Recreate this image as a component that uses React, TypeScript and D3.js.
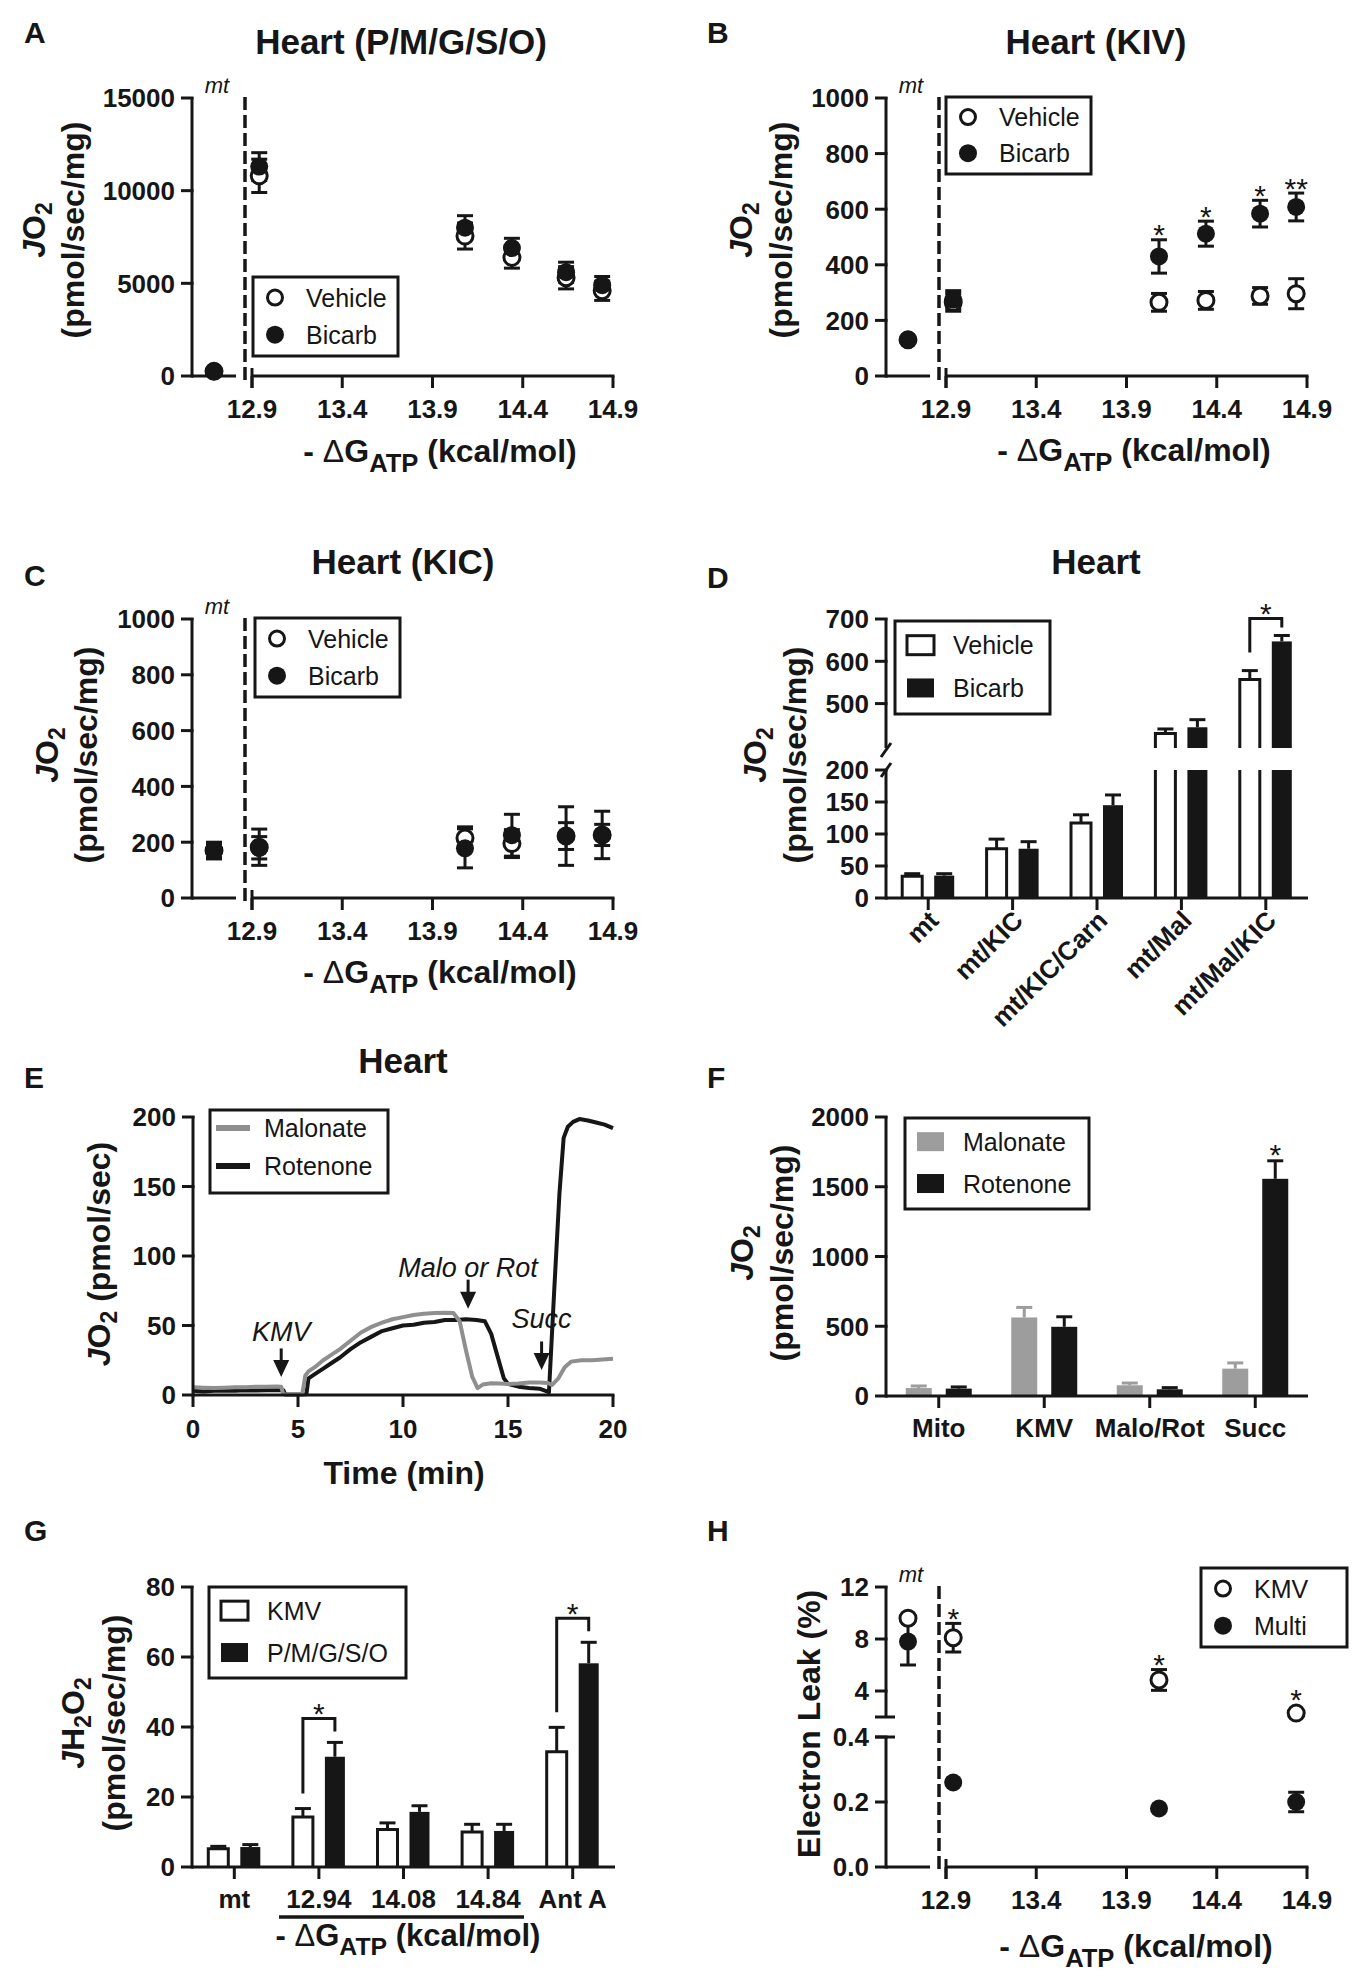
import React from "react";
import * as d3 from "d3";

const FONT = "'Liberation Sans', Arial, Helvetica, sans-serif";
const INK = "#161616";
const GRAY = "#9d9d9d";
const LINEGRAY = "#8f8f8f";
const SW = 3;
const TICK_FS = 26;
const TITLE_FS = 35;
const AXT_FS = 32;
const LEG_FS = 25;
const LET_FS = 30;
const STAR_FS = 30;

// ================= DATA =================
const dgTicks = [12.9, 13.4, 13.9, 14.4, 14.9];
const dgTickLabels = ["12.9", "13.4", "13.9", "14.4", "14.9"];
const dgX = ["mt", 12.94, 14.08, 14.34, 14.64, 14.84];

// Panel A  Heart (P/M/G/S/O)
const aYTicks = [0, 5000, 10000, 15000];
const aVehicle = [250, 10800, 7550, 6400, 5300, 4600];
const aVehicleErr = [80, 900, 700, 580, 600, 520];
const aBicarb = [250, 11300, 8000, 6900, 5600, 4900];
const aBicarbErr = [80, 750, 650, 530, 540, 470];

// Panel B  Heart (KIV)
const bYTicks = [0, 200, 400, 600, 800, 1000];
const bVehicle = [130, 265, 265, 272, 288, 296];
const bVehicleErr = [8, 32, 32, 32, 30, 54];
const bBicarb = [130, 275, 430, 512, 584, 608];
const bBicarbErr = [8, 32, 60, 45, 48, 50];
const bStars = ["", "", "*", "*", "*", "**"];

// Panel C  Heart (KIC)
const cYTicks = [0, 200, 400, 600, 800, 1000];
const cVehicle = [170, 182, 215, 195, 222, 226];
const cVehicleErr = [30, 65, 40, 50, 48, 38];
const cBicarb = [170, 180, 178, 225, 222, 226];
const cBicarbErr = [25, 40, 70, 75, 105, 85];

// Panel D  Heart bars (broken axis)
const dCats = ["mt", "mt/KIC", "mt/KIC/Carn", "mt/Mal", "mt/Mal/KIC"];
const dLowTicks = [0, 50, 100, 150, 200];
const dHighTicks = [500, 600, 700];
const dVehicle = [34, 77, 117, 429, 557];
const dVehicleErr = [4, 15, 13, 11, 21];
const dBicarb = [35, 77, 145, 444, 647];
const dBicarbErr = [3, 11, 16, 18, 14];

// Panel E  traces
const eXTicks = [0, 5, 10, 15, 20];
const eYTicks = [0, 50, 100, 150, 200];
const malTime = [0, 0.5, 1, 1.5, 2, 2.5, 3, 3.5, 4, 4.2, 4.3, 4.8, 5.2, 5.35, 5.5, 5.8, 6.2, 6.6, 7, 7.5, 8, 8.5, 9, 9.5, 10, 10.5, 11, 11.5, 12, 12.4, 12.7, 13, 13.3, 13.55, 13.8, 14.2, 14.6, 15, 15.5, 16, 16.5, 16.9, 17.1, 17.4, 17.7, 18, 18.5, 19, 19.5, 20];
const malVal = [5.5, 5.2, 5, 5.3, 5.5, 5.6, 6, 6, 6.2, 6, 0.5, 0.4, 0.5, 14, 17, 20, 25, 29, 33, 39, 45, 49, 52, 54.5, 56, 57.5, 58.5, 59, 59.2, 59, 53, 32, 13, 5, 7.5, 8.5, 8.2, 8, 8.3, 9, 9, 8.6, 7.2, 12, 20, 24, 25, 25, 25.5, 26];
const rotTime = [0, 0.5, 1, 1.5, 2, 2.5, 3, 3.5, 4, 4.3, 4.4, 5, 5.4, 5.5, 5.8, 6.2, 6.6, 7, 7.5, 8, 8.5, 9, 9.5, 10, 10.5, 11, 11.5, 12, 12.5, 13, 13.5, 13.9, 14.2, 14.5, 14.8, 15, 15.5, 16, 16.5, 16.95, 17.2, 17.45, 17.65, 17.85, 18.1, 18.4, 18.8, 19.2, 19.6, 20];
const rotVal = [3, 2.5, 3, 3.2, 3, 3.5, 3.2, 3.5, 3.6, 3.5, 0.3, 0.3, 0.5, 12, 15, 19, 23, 27, 33, 38, 42, 46, 48, 50, 50.5, 52, 52.5, 54, 54, 54.5, 54, 53, 44, 28, 12, 8, 6, 5, 4.5, 2, 75, 145, 185, 193, 196.5, 198.5, 197.5, 196, 194.5, 192];
const eArrowLabels = ["KMV", "Malo or Rot", "Succ"];
const eArrowTime = [4.2, 13.1, 16.6];
const eArrowFrom = [33.5, 83, 38.5];
const eArrowTo = [13, 62, 18];
const eLabelAt = [38.5, 85, 48];

// Panel F
const fCats = ["Mito", "KMV", "Malo/Rot", "Succ"];
const fYTicks = [0, 500, 1000, 1500, 2000];
const fMalonate = [57, 563, 77, 196];
const fMalonateErr = [15, 72, 16, 41];
const fRotenone = [53, 496, 48, 1557];
const fRotenoneErr = [12, 72, 12, 129];

// Panel G
const gCats = ["mt", "12.94", "14.08", "14.84", "Ant A"];
const gYTicks = [0, 20, 40, 60, 80];
const gKMV = [5.25, 14.3, 10.7, 10.0, 32.9];
const gKMVErr = [0.65, 2.4, 1.9, 2.2, 7.0];
const gPMGSO = [5.7, 31.5, 15.75, 10.3, 58.2];
const gPMGSOErr = [0.7, 4.1, 1.75, 1.9, 6.0];

// Panel H
const hX = ["mt", 12.94, 14.08, 14.84];
const hLowTicks = [0, 0.2, 0.4];
const hLowLabels = ["0.0", "0.2", "0.4"];
const hHighTicks = [4, 8, 12];
const hKMV = [9.6, 8.1, 4.85, 2.3];
const hKMVErr = [0, 1.1, 0.8, 0];
const hMulti = [7.8, 0.26, 0.18, 0.2];
const hMultiErr = [1.8, 0, 0, 0.03];
const hStars = ["", "*", "*", "*"];

// ================= HELPERS =================
const T = (props: any) => <text fill={INK} {...props} />;

function Letter({ x, y, t }: any) {
  return <T x={x} y={y} fontSize={LET_FS} fontWeight="bold">{t}</T>;
}
function Title({ x, y, t }: any) {
  return <T x={x} y={y} fontSize={TITLE_FS} fontWeight="bold" textAnchor="middle">{t}</T>;
}
function DGTitle({ x, y, fs = AXT_FS }: any) {
  return (
    <T x={x} y={y} fontSize={fs} fontWeight="bold" textAnchor="middle">
      - <tspan fontWeight="normal">Δ</tspan>G<tspan dy={fs * 0.3} fontSize={fs * 0.8}>ATP</tspan>
      <tspan dy={-fs * 0.3}> (kcal/mol)</tspan>
    </T>
  );
}
function JO2({ x, y, h = false }: any) {
  return (
    <T transform={`translate(${x},${y}) rotate(-90)`} textAnchor="middle" fontSize={AXT_FS} fontWeight="bold">
      <tspan fontStyle="italic">J</tspan>
      {h ? (
        <>
          H<tspan dy={7} fontSize={23}>2</tspan>
          <tspan dy={-7}>O</tspan>
          <tspan dy={7} fontSize={23}>2</tspan>
        </>
      ) : (
        <>
          O<tspan dy={7} fontSize={23}>2</tspan>
        </>
      )}
    </T>
  );
}
function RotLabel({ x, y, t, fs = AXT_FS }: any) {
  return (
    <T transform={`translate(${x},${y}) rotate(-90)`} textAnchor="middle" fontSize={fs} fontWeight="bold">
      {t}
    </T>
  );
}

function YAxis({ x, sc, ticks, labels, y1, y2 }: any) {
  return (
    <g>
      <line x1={x} x2={x} y1={y1} y2={y2} stroke={INK} strokeWidth={SW} />
      {ticks.map((t: number, i: number) => (
        <g key={i}>
          <line x1={x - 11} x2={x + 1.5} y1={sc(t)} y2={sc(t)} stroke={INK} strokeWidth={SW} />
          <T x={x - 17} y={sc(t)} dy="0.36em" textAnchor="end" fontSize={TICK_FS} fontWeight="bold">
            {labels ? labels[i] : String(t)}
          </T>
        </g>
      ))}
    </g>
  );
}

function dgScale(ox: number) {
  return d3.scaleLinear().domain([12.9, 14.9]).range([ox + 60, ox + 421]);
}

function DGAxis({ ox, y0, yTop }: any) {
  const xs = dgScale(ox);
  return (
    <g>
      <line x1={ox} x2={ox + 44} y1={y0} y2={y0} stroke={INK} strokeWidth={SW} />
      <line x1={ox + 53} x2={ox + 53} y1={yTop - 1} y2={y0 + 6} stroke={INK} strokeWidth={3.5} strokeDasharray="13 5" />
      <line x1={xs(12.9)} x2={xs(14.9) + 1.5} y1={y0} y2={y0} stroke={INK} strokeWidth={SW} />
      <line x1={xs(12.9)} x2={xs(12.9)} y1={y0 - 8} y2={y0 + 12} stroke={INK} strokeWidth={SW} />
      {dgTicks.map((t, i) => (
        <g key={i}>
          <line x1={xs(t)} x2={xs(t)} y1={y0} y2={y0 + 12} stroke={INK} strokeWidth={SW} />
          <T x={xs(t)} y={y0 + 42} textAnchor="middle" fontSize={TICK_FS} fontWeight="bold">
            {dgTickLabels[i]}
          </T>
        </g>
      ))}
      <T x={ox + 25} y={yTop - 5} textAnchor="middle" fontSize={22} fontStyle="italic">mt</T>
    </g>
  );
}

function ScatterMarks({ ox, sc, xsList, series, stars }: any) {
  const xl = dgScale(ox);
  const px = (x: any) => (x === "mt" ? ox + 22 : xl(x));
  const R = 9;
  return (
    <g>
      {series.map((s: any, si: number) =>
        s.vals.map((v: number, i: number) => {
          const e = s.errs[i];
          if (!e) return null;
          const x = px(xsList[i]);
          return (
            <g key={`e${si}-${i}`} stroke={INK} strokeWidth={SW}>
              <line x1={x} x2={x} y1={sc(v - e)} y2={sc(v + e)} />
              <line x1={x - 8} x2={x + 8} y1={sc(v - e)} y2={sc(v - e)} />
              <line x1={x - 8} x2={x + 8} y1={sc(v + e)} y2={sc(v + e)} />
            </g>
          );
        })
      )}
      {series.map((s: any, si: number) =>
        s.vals.map((v: number, i: number) => (
          <circle
            key={`c${si}-${i}`}
            cx={px(xsList[i])}
            cy={sc(v)}
            r={s.open ? R - 1 : R}
            fill={s.open ? "#fff" : INK}
            stroke={INK}
            strokeWidth={s.open ? SW : 0}
          />
        ))
      )}
      {stars &&
        stars.map((st: string, i: number) => {
          if (!st) return null;
          let top = Infinity;
          series.forEach((s: any) => {
            const v = s.vals[i];
            top = Math.min(top, sc(v + s.errs[i]), sc(v) - R);
          });
          const cy = top - 12;
          return (
            <T key={`s${i}`} x={px(xsList[i])} y={cy + 17.5} textAnchor="middle" fontSize={STAR_FS}>
              {st}
            </T>
          );
        })}
    </g>
  );
}

function CircleLegend({ x, y, w, h, labels }: any) {
  const r1 = y + h * 0.26;
  const r2 = y + h * 0.73;
  return (
    <g>
      <rect x={x} y={y} width={w} height={h} fill="#fff" stroke={INK} strokeWidth={SW} />
      <circle cx={x + 22} cy={r1} r={7.5} fill="#fff" stroke={INK} strokeWidth={SW} />
      <circle cx={x + 22} cy={r2} r={9} fill={INK} />
      <T x={x + 53} y={r1} dy="0.36em" fontSize={LEG_FS}>{labels[0]}</T>
      <T x={x + 53} y={r2} dy="0.36em" fontSize={LEG_FS}>{labels[1]}</T>
    </g>
  );
}

function SquareLegend({ x, y, w, h, labels, fills }: any) {
  const r1 = y + h * 0.26;
  const r2 = y + h * 0.72;
  return (
    <g>
      <rect x={x} y={y} width={w} height={h} fill="#fff" stroke={INK} strokeWidth={SW} />
      {[r1, r2].map((ry, i) => (
        <g key={i}>
          <rect
            x={x + 12}
            y={ry - 9.5}
            width={27}
            height={19}
            fill={fills[i]}
            stroke={fills[i] === "#fff" ? INK : "none"}
            strokeWidth={SW}
          />
          <T x={x + 58} y={ry} dy="0.36em" fontSize={LEG_FS}>{labels[i]}</T>
        </g>
      ))}
    </g>
  );
}

function CatAxis({ x1, x2, y0, centers }: any) {
  return (
    <g>
      <line x1={x1} x2={x2} y1={y0} y2={y0} stroke={INK} strokeWidth={SW} />
      {centers.map((c: number, i: number) => (
        <line key={i} x1={c} x2={c} y1={y0} y2={y0 + 12} stroke={INK} strokeWidth={SW} />
      ))}
    </g>
  );
}

function ErrUp({ x, yTop, yErr, color = INK }: any) {
  return (
    <g stroke={color} strokeWidth={SW}>
      <line x1={x} x2={x} y1={yTop} y2={yErr} />
      <line x1={x - 8} x2={x + 8} y1={yErr} y2={yErr} />
    </g>
  );
}

function Bar({ x, w, y0, yv, open, color = INK }: any) {
  if (open) {
    return <path d={`M${x},${y0}V${yv}H${x + w}V${y0}`} fill="#fff" stroke={INK} strokeWidth={SW} />;
  }
  return <rect x={x} y={yv} width={w} height={y0 - yv} fill={color} />;
}

function Bracket({ xl, xr, yl, yr, yt }: any) {
  return (
    <g>
      <path d={`M${xl},${yl}V${yt}H${xr}V${yr}`} fill="none" stroke={INK} strokeWidth={SW} />
      <T x={(xl + xr) / 2} y={yt - 10 + 16} textAnchor="middle" fontSize={STAR_FS}>*</T>
    </g>
  );
}

// ================= PANELS =================
function PanelA() {
  const ox = 192;
  const sc = d3.scaleLinear().domain([0, 15000]).range([376, 98]);
  return (
    <g>
      <Letter x={24} y={43} t="A" />
      <Title x={401} y={54} t="Heart (P/M/G/S/O)" />
      <YAxis x={ox} sc={sc} ticks={aYTicks} y1={97} y2={377.5} />
      <DGAxis ox={ox} y0={376} yTop={98} />
      <ScatterMarks
        ox={ox}
        sc={sc}
        xsList={dgX}
        series={[
          { vals: aVehicle, errs: aVehicleErr, open: true },
          { vals: aBicarb, errs: aBicarbErr, open: false },
        ]}
      />
      <CircleLegend x={253} y={277} w={145} h={79} labels={["Vehicle", "Bicarb"]} />
      <JO2 x={45} y={230} />
      <RotLabel x={84} y={230} t="(pmol/sec/mg)" />
      <DGTitle x={440} y={462} />
    </g>
  );
}

function PanelB() {
  const ox = 886;
  const sc = d3.scaleLinear().domain([0, 1000]).range([376, 98]);
  return (
    <g>
      <Letter x={707} y={43} t="B" />
      <Title x={1096} y={54} t="Heart (KIV)" />
      <YAxis x={ox} sc={sc} ticks={bYTicks} y1={97} y2={377.5} />
      <DGAxis ox={ox} y0={376} yTop={98} />
      <ScatterMarks
        ox={ox}
        sc={sc}
        xsList={dgX}
        stars={bStars}
        series={[
          { vals: bVehicle, errs: bVehicleErr, open: true },
          { vals: bBicarb, errs: bBicarbErr, open: false },
        ]}
      />
      <CircleLegend x={946} y={97} w={145} h={77} labels={["Vehicle", "Bicarb"]} />
      <JO2 x={752} y={230} />
      <RotLabel x={792} y={230} t="(pmol/sec/mg)" />
      <DGTitle x={1134} y={461} />
    </g>
  );
}

function PanelC() {
  const ox = 192;
  const sc = d3.scaleLinear().domain([0, 1000]).range([898, 619]);
  return (
    <g>
      <Letter x={24} y={586} t="C" />
      <Title x={403} y={574} t="Heart (KIC)" />
      <YAxis x={ox} sc={sc} ticks={cYTicks} y1={618} y2={899.5} />
      <DGAxis ox={ox} y0={898} yTop={619} />
      <ScatterMarks
        ox={ox}
        sc={sc}
        xsList={dgX}
        series={[
          { vals: cVehicle, errs: cVehicleErr, open: true },
          { vals: cBicarb, errs: cBicarbErr, open: false },
        ]}
      />
      <CircleLegend x={255} y={618} w={145} h={79} labels={["Vehicle", "Bicarb"]} />
      <JO2 x={58} y={755} />
      <RotLabel x={97} y={755} t="(pmol/sec/mg)" />
      <DGTitle x={440} y={983} />
    </g>
  );
}

function PanelD() {
  const ax = 886;
  const y0 = 898;
  const low = d3.scaleLinear().domain([0, 200]).range([898, 770]);
  const high = d3.scaleLinear().domain([395, 700]).range([748, 619]);
  const yv = (v: number) => (v <= 200 ? low(v) : high(v));
  const band = d3.scaleBand().domain(dCats).range([886, 1308]);
  const cx = (c: string) => (band(c) as number) + band.bandwidth() / 2;
  const W = 20;
  const off = 16;
  const series = [
    { vals: dVehicle, errs: dVehicleErr, open: true, d: -off },
    { vals: dBicarb, errs: dBicarbErr, open: false, d: off },
  ];
  const last = dCats.length - 1;
  const vTop = yv(dVehicle[last] + dVehicleErr[last]);
  const bTop = yv(dBicarb[last] + dBicarbErr[last]);
  return (
    <g>
      <Letter x={707} y={588} t="D" />
      <Title x={1096} y={574} t="Heart" />
      {series.map((s, si) =>
        dCats.map((c, i) => {
          const v = s.vals[i];
          const x = cx(c) + s.d - W / 2;
          const xc = cx(c) + s.d;
          if (v <= 200) {
            return (
              <g key={`${si}-${i}`}>
                <Bar x={x} w={W} y0={y0} yv={low(v)} open={s.open} />
                <ErrUp x={xc} yTop={low(v)} yErr={low(v + s.errs[i])} />
              </g>
            );
          }
          return (
            <g key={`${si}-${i}`}>
              {s.open ? (
                <path d={`M${x},${y0}V${low(200)}M${x + W},${low(200)}V${y0}`} stroke={INK} strokeWidth={SW} fill="none" />
              ) : (
                <rect x={x} y={low(200)} width={W} height={y0 - low(200)} fill={INK} />
              )}
              {s.open ? (
                <path d={`M${x},${high(395)}V${high(v)}H${x + W}V${high(395)}`} stroke={INK} strokeWidth={SW} fill="#fff" />
              ) : (
                <rect x={x} y={high(v)} width={W} height={high(395) - high(v)} fill={INK} />
              )}
              <ErrUp x={xc} yTop={high(v)} yErr={high(v + s.errs[i])} />
            </g>
          );
        })
      )}
      <YAxis x={ax} sc={low} ticks={dLowTicks} y1={low(200) - 1} y2={899.5} />
      <YAxis x={ax} sc={high} ticks={dHighTicks} y1={618} y2={high(395)} />
      <line x1={ax - 5} x2={ax + 5} y1={high(395) + 9} y2={high(395) - 5} stroke={INK} strokeWidth={SW} />
      <line x1={ax - 5} x2={ax + 5} y1={low(200) + 7} y2={low(200) - 7} stroke={INK} strokeWidth={SW} />
      <CatAxis x1={ax} x2={1308} y0={y0} centers={dCats.map(cx)} />
      {dCats.map((c, i) => (
        <T
          key={i}
          transform={`translate(${cx(c) + 12},${y0 + 24}) rotate(-45)`}
          textAnchor="end"
          fontSize={TICK_FS}
          fontWeight="bold"
        >
          {c}
        </T>
      ))}
      <Bracket
        xl={cx(dCats[last]) - off}
        xr={cx(dCats[last]) + off}
        yl={vTop - 18}
        yr={bTop - 8}
        yt={Math.min(vTop, bTop) - 17}
      />
      <SquareLegend x={895} y={621} w={155} h={93} labels={["Vehicle", "Bicarb"]} fills={["#fff", INK]} />
      <JO2 x={766} y={755} />
      <RotLabel x={806} y={755} t="(pmol/sec/mg)" />
    </g>
  );
}

function PanelE() {
  const ax = 193;
  const x = d3.scaleLinear().domain([0, 20]).range([193, 613]);
  const y = d3.scaleLinear().domain([0, 200]).range([1395, 1117]);
  const line = d3
    .line<[number, number]>()
    .x((d) => x(d[0]))
    .y((d) => y(d[1]));
  const mal = malTime.map((t, i) => [t, malVal[i]] as [number, number]);
  const rot = rotTime.map((t, i) => [t, rotVal[i]] as [number, number]);
  return (
    <g>
      <Letter x={24} y={1088} t="E" />
      <Title x={403} y={1073} t="Heart" />
      <path d={line(rot) as string} fill="none" stroke={INK} strokeWidth={4} strokeLinejoin="round" />
      <path d={line(mal) as string} fill="none" stroke={LINEGRAY} strokeWidth={4} strokeLinejoin="round" />
      <YAxis x={ax} sc={y} ticks={eYTicks} y1={1116} y2={1396.5} />
      <line x1={ax} x2={x(20) + 1.5} y1={1395} y2={1395} stroke={INK} strokeWidth={SW} />
      {eXTicks.map((t, i) => (
        <g key={i}>
          <line x1={x(t)} x2={x(t)} y1={1395} y2={1407} stroke={INK} strokeWidth={SW} />
          <T x={x(t)} y={1438} textAnchor="middle" fontSize={TICK_FS} fontWeight="bold">{String(t)}</T>
        </g>
      ))}
      {eArrowLabels.map((lab, i) => {
        const ax0 = x(eArrowTime[i]);
        const yt = y(eArrowTo[i]);
        return (
          <g key={i}>
            <line x1={ax0} x2={ax0} y1={y(eArrowFrom[i])} y2={yt - 14} stroke={INK} strokeWidth={SW} />
            <path d={`M${ax0 - 8},${yt - 17}L${ax0 + 8},${yt - 17}L${ax0},${yt}Z`} fill={INK} />
            <T x={ax0} y={y(eLabelAt[i])} textAnchor="middle" fontSize={27} fontStyle="italic">{lab}</T>
          </g>
        );
      })}
      <rect x={210} y={1110} width={178} height={83} fill="#fff" stroke={INK} strokeWidth={SW} />
      <line x1={216} x2={250} y1={1128} y2={1128} stroke={LINEGRAY} strokeWidth={6} />
      <line x1={216} x2={250} y1={1166} y2={1166} stroke={INK} strokeWidth={6} />
      <T x={264} y={1128} dy="0.36em" fontSize={LEG_FS}>Malonate</T>
      <T x={264} y={1166} dy="0.36em" fontSize={LEG_FS}>Rotenone</T>
      <T transform={`translate(110,1254) rotate(-90)`} textAnchor="middle" fontSize={AXT_FS} fontWeight="bold">
        <tspan fontStyle="italic">J</tspan>O<tspan dy={7} fontSize={23}>2</tspan>
        <tspan dy={-7}> (pmol/sec)</tspan>
      </T>
      <T x={404} y={1484} textAnchor="middle" fontSize={AXT_FS} fontWeight="bold">Time (min)</T>
    </g>
  );
}

function PanelF() {
  const ax = 886;
  const y0 = 1396;
  const y = d3.scaleLinear().domain([0, 2000]).range([1396, 1117]);
  const band = d3.scaleBand().domain(fCats).range([886, 1308]);
  const cx = (c: string) => (band(c) as number) + band.bandwidth() / 2;
  const W = 26;
  const off = 20;
  const series = [
    { vals: fMalonate, errs: fMalonateErr, color: GRAY, d: -off },
    { vals: fRotenone, errs: fRotenoneErr, color: INK, d: off },
  ];
  return (
    <g>
      <Letter x={707} y={1088} t="F" />
      {series.map((s, si) =>
        fCats.map((c, i) => {
          const xc = cx(c) + s.d;
          const v = s.vals[i];
          return (
            <g key={`${si}-${i}`}>
              <ErrUp x={xc} yTop={y(v)} yErr={y(v + s.errs[i])} color={s.color} />
              <Bar x={xc - W / 2} w={W} y0={y0} yv={y(v)} color={s.color} />
            </g>
          );
        })
      )}
      <T x={cx("Succ") + off} y={y(fRotenone[3] + fRotenoneErr[3]) - 13 + 17} textAnchor="middle" fontSize={STAR_FS}>*</T>
      <YAxis x={ax} sc={y} ticks={fYTicks} y1={1116} y2={1397.5} />
      <CatAxis x1={ax} x2={1308} y0={y0} centers={fCats.map(cx)} />
      {fCats.map((c, i) => (
        <T key={i} x={cx(c)} y={y0 + 41} textAnchor="middle" fontSize={TICK_FS} fontWeight="bold">{c}</T>
      ))}
      <SquareLegend x={905} y={1118} w={184} h={91} labels={["Malonate", "Rotenone"]} fills={[GRAY, INK]} />
      <JO2 x={753} y={1253} />
      <RotLabel x={793} y={1253} t="(pmol/sec/mg)" />
    </g>
  );
}

function PanelG() {
  const ax = 192;
  const y0 = 1867;
  const y = d3.scaleLinear().domain([0, 80]).range([1867, 1587]);
  const band = d3.scaleBand().domain(gCats).range([192, 615]);
  const cx = (c: string) => (band(c) as number) + band.bandwidth() / 2;
  const W = 20;
  const off = 16;
  const series = [
    { vals: gKMV, errs: gKMVErr, open: true, d: -off },
    { vals: gPMGSO, errs: gPMGSOErr, open: false, d: off },
  ];
  const brk = [1, 4];
  return (
    <g>
      <Letter x={24} y={1541} t="G" />
      {series.map((s, si) =>
        gCats.map((c, i) => {
          const xc = cx(c) + s.d;
          const v = s.vals[i];
          return (
            <g key={`${si}-${i}`}>
              <ErrUp x={xc} yTop={y(v)} yErr={y(v + s.errs[i])} />
              <Bar x={xc - W / 2} w={W} y0={y0} yv={y(v)} open={s.open} />
            </g>
          );
        })
      )}
      {brk.map((i) => {
        const vt = y(gKMV[i] + gKMVErr[i]);
        const bt = y(gPMGSO[i] + gPMGSOErr[i]);
        return (
          <Bracket
            key={i}
            xl={cx(gCats[i]) - off}
            xr={cx(gCats[i]) + off}
            yl={vt - 15}
            yr={bt - 11}
            yt={Math.min(vt, bt) - 24}
          />
        );
      })}
      <YAxis x={ax} sc={y} ticks={gYTicks} y1={1586} y2={1868.5} />
      <CatAxis x1={ax} x2={615} y0={y0} centers={gCats.map(cx)} />
      {gCats.map((c, i) => (
        <T key={i} x={cx(c)} y={y0 + 41} textAnchor="middle" fontSize={TICK_FS} fontWeight="bold">{c}</T>
      ))}
      <line x1={279} x2={524} y1={1917} y2={1917} stroke={INK} strokeWidth={3.5} />
      <DGTitle x={408} y={1946} fs={31} />
      <SquareLegend x={209} y={1587} w={197} h={91} labels={["KMV", "P/M/G/S/O"]} fills={["#fff", INK]} />
      <JO2 x={84} y={1723} h={true} />
      <RotLabel x={125} y={1723} t="(pmol/sec/mg)" />
    </g>
  );
}

function PanelH() {
  const ox = 886;
  const low = d3.scaleLinear().domain([0, 0.4]).range([1867, 1737]);
  const high = d3.scaleLinear().domain([2, 12]).range([1717, 1587]);
  const sc = (v: number) => (v < 1 ? low(v) : high(v));
  return (
    <g>
      <Letter x={707} y={1541} t="H" />
      <YAxis x={ox} sc={high} ticks={hHighTicks} y1={1586} y2={high(2)} />
      <line x1={ox - 11} x2={ox + 9} y1={high(2)} y2={high(2)} stroke={INK} strokeWidth={SW} />
      <YAxis x={ox} sc={low} ticks={hLowTicks} labels={hLowLabels} y1={low(0.4)} y2={1868.5} />
      <line x1={ox - 11} x2={ox + 9} y1={low(0.4)} y2={low(0.4)} stroke={INK} strokeWidth={SW} />
      <DGAxis ox={ox} y0={1867} yTop={1587} />
      <ScatterMarks
        ox={ox}
        sc={sc}
        xsList={hX}
        stars={hStars}
        series={[
          { vals: hKMV, errs: hKMVErr, open: true },
          { vals: hMulti, errs: hMultiErr, open: false },
        ]}
      />
      <CircleLegend x={1201} y={1568} w={146} h={79} labels={["KMV", "Multi"]} />
      <RotLabel x={820} y={1724} t="Electron Leak (%)" />
      <DGTitle x={1136} y={1957} />
    </g>
  );
}

export default function App() {
  return (
    <svg
      width={1363}
      height={1977}
      viewBox="0 0 1363 1977"
      style={{ position: "absolute", left: 0, top: 0, background: "#fff" }}
      fontFamily={FONT}
    >
      <rect x={0} y={0} width={1363} height={1977} fill="#fff" />
      <PanelA />
      <PanelB />
      <PanelC />
      <PanelD />
      <PanelE />
      <PanelF />
      <PanelG />
      <PanelH />
    </svg>
  );
}
